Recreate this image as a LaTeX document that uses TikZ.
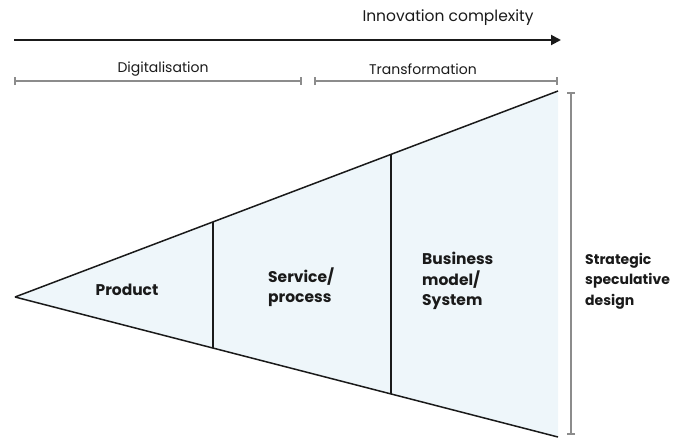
\documentclass[tikz,border=0pt]{standalone}
\usepackage{fontspec}
\setmainfont{Poppins}
\usetikzlibrary{arrows.meta}
\definecolor{fillblue}{HTML}{EEF6FA}
\definecolor{brk}{HTML}{8C8C8C}
\definecolor{ink}{HTML}{1A1A1A}
\begin{document}
\begin{tikzpicture}[x=1pt,y=-1pt,
  bracket/.style={draw=brk,line width=1.6pt,{Bar[width=8pt,line width=1.6pt]}-{Bar[width=8pt,line width=1.6pt]}},
  toplbl/.style={font=\fontsize{14}{16}\selectfont,text=ink,inner sep=0pt},
  seglbl/.style={font=\fontsize{15.5}{20.5}\selectfont\bfseries,text=ink,inner sep=0pt,align=left},
  edge/.style={draw=ink,line width=1.5pt},
  divider/.style={draw=ink,line width=1.2pt}]
\useasboundingbox (0,0) rectangle (677,437);
% coordinates
\coordinate (apex) at (15,297);
\coordinate (tr) at (558,91);
\coordinate (br) at (558,437);
\coordinate (d1t) at (213,222);
\coordinate (d1b) at (213,348);
\coordinate (d2t) at (391,154.5);
\coordinate (d2b) at (391,394);
% fill
\fill[fillblue] (apex) -- (tr) -- (br) -- cycle;
\draw[edge] (apex) -- (tr);
\draw[edge] (apex) -- (br);
\draw[divider] (d1t) -- (d1b);
\draw[divider] (d2t) -- (d2b);
% top arrow
\coordinate (as) at (14,40);
\coordinate (ae) at (561,40);
\draw[draw=ink,line width=2pt,-{Triangle[length=10pt,width=10pt]}] (as) -- (ae);
\node[toplbl,font=\fontsize{15.5}{18}\selectfont] (ic) at (448,18) {Innovation complexity};
% brackets
\coordinate (b1s) at (14,81);
\coordinate (b1e) at (302,81);
\coordinate (b2s) at (314,81);
\coordinate (b2e) at (558,81);
\draw[bracket] (b1s) -- (b1e);
\draw[bracket] (b2s) -- (b2e);
\node[toplbl] (dig) at (163,69) {Digitalisation};
\node[toplbl] (tra) at (423,69) {Transformation};
% right bracket
\coordinate (rbs) at (571,92);
\coordinate (rbe) at (571,435);
\draw[bracket] (rbs) -- (rbe);
% labels
\node[seglbl] (prod) at (127,290) {Product};
\node[seglbl,anchor=west] (serv) at (268,287) {Service/\\process};
\node[seglbl,anchor=west] (bus) at (422,281) {Business\\model/\\System};
\node[seglbl,anchor=west,font=\fontsize{14}{20.5}\selectfont\bfseries] (strat) at (585,281) {Strategic\\speculative\\design};
\end{tikzpicture}
\end{document}
